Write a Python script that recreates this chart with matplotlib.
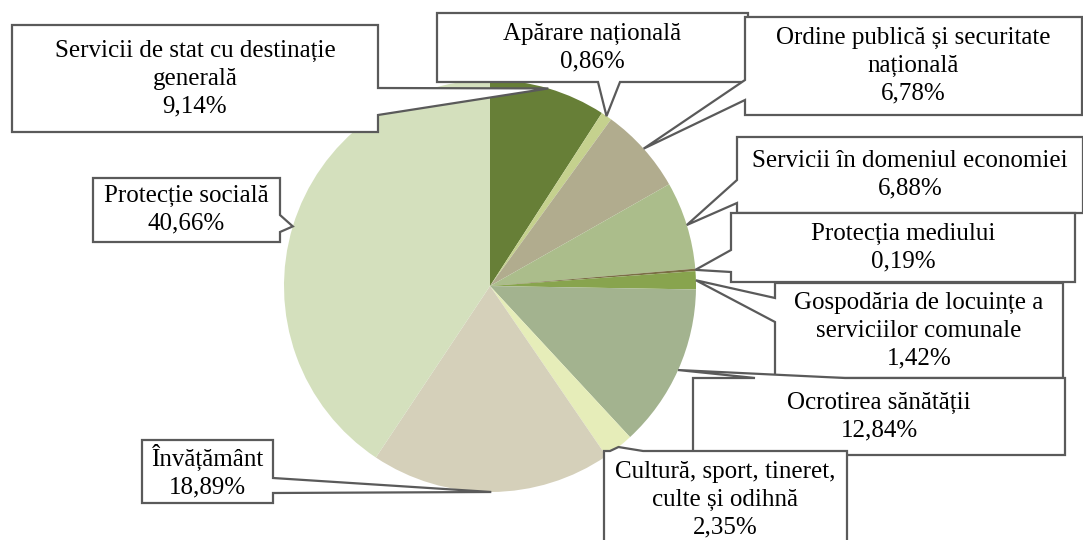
import matplotlib
matplotlib.use('Agg')
from matplotlib import pyplot as plt
from matplotlib.patches import Polygon
import numpy as np

W, H = 1083, 540

categories = ['Servicii de stat cu destinație\ngenerală',
              'Apărare națională',
              'Ordine publică și securitate\nnațională',
              'Servicii în domeniul economiei',
              'Protecția mediului',
              'Gospodăria de locuințe a\nserviciilor comunale',
              'Ocrotirea sănătății',
              'Cultură, sport, tineret,\nculte și odihnă',
              'Învățământ',
              'Protecție socială']
shares = [9.14, 0.86, 6.78, 6.88, 0.19, 1.42, 12.84, 2.35, 18.89, 40.66]
colors = ['#677f37', '#c5d18e', '#b1ac8e', '#abbd8b', '#7a6e45',
          '#88a44e', '#a3b38f', '#e6edb9', '#d5d0ba', '#d4e0bd']

# callout boxes in pixel coords (x0, y0, x1, y1), side with the pointer, base of pointer
boxes = [
    ((12, 25, 378, 132), 'right', (88, 115)),
    ((437, 13, 748, 82), 'bottom', (598, 620)),
    ((745, 17, 1082, 115), 'left', (80, 100)),
    ((737, 137, 1083, 213), 'left', (180, 203)),
    ((731, 213, 1075, 282), 'left', (250, 272)),
    ((775, 283, 1063, 378), 'left', (298, 322)),
    ((693, 378, 1065, 455), 'top', (755, 845)),
    ((604, 451, 847, 549), 'top', (610, 643)),
    ((142, 440, 273, 503), 'right', (478, 493)),
    ((93, 178, 280, 242), 'right', (215, 232)),
]

cx, cy, r = 490, 286, 206

fig = plt.figure(figsize=(W / 100, H / 100), dpi=100)
ax = fig.add_axes([0, 0, 1, 1])
wedges, _ = ax.pie(shares, colors=colors, startangle=90, counterclock=False,
                   center=(cx, H - cy), radius=r, wedgeprops=dict(linewidth=0))
ax.set_xlim(0, W)
ax.set_ylim(0, H)
ax.set_aspect('equal')
ax.axis('off')


def callout(box, side, base, tip):
    x0, y0, x1, y1 = box
    b0, b1 = base
    pts = [(x0, y0)]
    if side == 'top':
        pts += [(b0, y0), tip, (b1, y0)]
    pts.append((x1, y0))
    if side == 'right':
        pts += [(x1, b0), tip, (x1, b1)]
    pts.append((x1, y1))
    if side == 'bottom':
        pts += [(b1, y1), tip, (b0, y1)]
    pts.append((x0, y1))
    if side == 'left':
        pts += [(x0, b1), tip, (x0, b0)]
    pts = [(x, H - y) for x, y in pts]
    ax.add_patch(Polygon(pts, closed=True, facecolor='white', edgecolor='#5a5a5a',
                         linewidth=1.6, joinstyle='miter', zorder=3))


for w, name, val, (box, side, base) in zip(wedges, categories, shares, boxes):
    mid = np.deg2rad((w.theta1 + w.theta2) / 2)
    tx = w.center[0] + w.r * np.cos(mid)
    ty = w.center[1] + w.r * np.sin(mid)
    callout(box, side, base, (tx, H - ty))
    x0, y0, x1, y1 = box
    label = name + '\n' + f'{val:.2f}'.replace('.', ',') + '%'
    ax.text((x0 + x1) / 2, H - (y0 + y1) / 2, label, ha='center', va='center',
            multialignment='center', fontsize=18, linespacing=1.33,
            family=['Liberation Serif', 'DejaVu Serif'], color='black', zorder=4)

plt.savefig('out.png', dpi=100)
